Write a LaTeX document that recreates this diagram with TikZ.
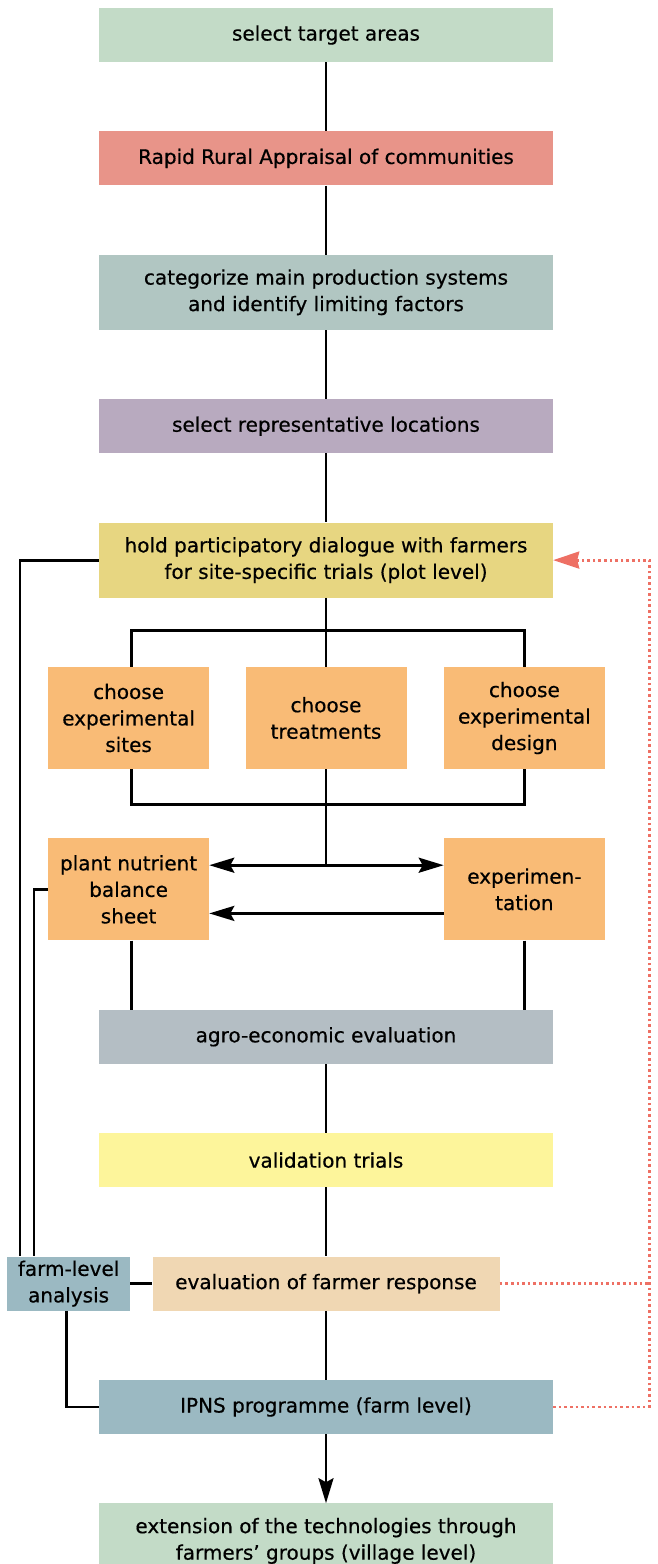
\documentclass[tikz,border=0pt]{standalone}
\usepackage{fontspec}
\setmainfont{DejaVu Sans}[BoldFont=DejaVu Sans, BoldFeatures={FakeBold=0.5}]
\usepackage{tikz}
\usetikzlibrary{positioning}
\usetikzlibrary{arrows.meta,calc}
\definecolor{areagreen}{HTML}{C3DBC7}
\definecolor{rrared}{HTML}{E89489}
\definecolor{catgrey}{HTML}{B1C6C2}
\definecolor{locpurple}{HTML}{B8AABF}
\definecolor{dialyellow}{HTML}{E7D681}
\definecolor{choiceorange}{HTML}{F9BB76}
\definecolor{agrogrey}{HTML}{B4BEC4}
\definecolor{validyellow}{HTML}{FDF59B}
\definecolor{evalpeach}{HTML}{F0D7B3}
\definecolor{farmblue}{HTML}{9BB9C2}
\definecolor{fbred}{HTML}{EE7064}
\tikzstyle{box} = [rectangle, minimum width=454pt, minimum height=54pt, inner sep=0pt, align=center, font=\fontsize{20}{26.5}\selectfont\bfseries]
\tikzstyle{small} = [box, minimum width=161pt, minimum height=102pt, fill=choiceorange]
\tikzstyle{line} = [line width=2.8pt]
\tikzstyle{arrow} = [line width=2.8pt,-{Stealth[length=25pt,width=15pt,inset=4pt]}]
\tikzstyle{dots} = [line width=2.8pt, draw=fbred, dash pattern=on 2.6pt off 3pt]
\tikzstyle{feedback} = [dots, -{Stealth[length=26pt,width=17pt,inset=2pt,fill=fbred]}]

\begin{document}
\begin{tikzpicture}[x=1pt,y=-1pt,node distance=69pt]
	\useasboundingbox (0,0) rectangle (658,1564);
	\node[box,fill=areagreen] (target) at (326,35) {select target areas};
	\node[box,fill=rrared,below=of target] (rra) {Rapid Rural Appraisal of communities};
	\node[box,fill=catgrey,minimum height=75pt,below=of rra] (categ) {categorize main production systems\\and identify limiting factors};
	\node[box,fill=locpurple,below=of categ] (locs) {select representative locations};
	\node[box,fill=dialyellow,minimum height=75pt,below=of locs] (dialog) {hold participatory dialogue with farmers\\for site-specific trials (plot level)};
	\node[small,below=of dialog] (treat) {choose\\treatments};
	\node[small,left=36pt of treat] (sites) {choose\\experimental\\sites};
	\node[small,right=37pt of treat] (design) {choose\\experimental\\design};
	\node[small,below=of sites] (balance) {plant nutrient\\balance\\sheet};
	\node[small,below=of design] (expt) {experimen-\\tation};
	\coordinate (mid) at (expt.south -| dialog);
	\node[box,fill=agrogrey,below=of mid] (agro) {agro-economic evaluation};
	\node[box,fill=validyellow,below=of agro] (valid) {validation trials};
	\node[box,fill=evalpeach,minimum width=347pt,below=of valid] (eval) {evaluation of farmer response};
	\node[box,fill=farmblue,minimum width=123pt,left=22pt of eval] (farm) {farm-level\\analysis};
	\node[box,fill=farmblue,below=of eval] (ipns) {IPNS programme (farm level)};
	\node[box,fill=areagreen,minimum height=75pt,below=of ipns] (ext) {extension of the technologies through\\farmers' groups (village level)};
	% main chain
	\draw[line] (target) -- (rra);
	\draw[line] (rra) -- (categ);
	\draw[line] (categ) -- (locs);
	\draw[line] (locs) -- (dialog);
	\draw[line] (dialog) -- (treat);
	\draw[line] ($(sites.north)+(3,0)$) -- ++(0,-36) -| (design.north);
	\draw[line] ($(sites.south)+(3,0)$) -- ++(0,35) -| (design.south);
	\coordinate (split) at ($(treat.south |- balance.north)+(0,27)$);
	\draw[line] (treat) -- (split);
	\draw[arrow] (split) -- (balance.east |- split);
	\draw[arrow] (split) -- (expt.west |- split);
	\draw[arrow] ($(expt.west)+(0,24)$) -- ($(balance.east)+(0,24)$);
	\draw[line] ($(balance.south)+(3,0)$) -- ($(balance.south |- agro.north)+(3,0)$);
	\draw[line] (expt.south) -- (expt.south |- agro.north);
	\draw[line] (agro) -- (valid);
	\draw[line] (valid) -- (eval);
	\draw[line] (eval) -- (ipns);
	\draw[arrow] (ipns) -- (ext);
	% farm-level analysis
	\draw[line] (farm) -- (eval);
	\draw[line] (dialog.west) -| ($(farm.north west)+(13,0)$);
	\draw[line] (balance.west) -| ($(farm.north west)+(27,0)$);
	\draw[line] ($(farm.south)+(-2,0)$) |- (ipns.west);
	% feedback
	\coordinate (fbturn) at ($(ipns.east)+(96,0)$);
	\draw[dots] (eval.east) -- (eval.east -| fbturn);
	\draw[feedback] (ipns.east) -- (fbturn) |- (dialog.east);
\end{tikzpicture}
\end{document}
